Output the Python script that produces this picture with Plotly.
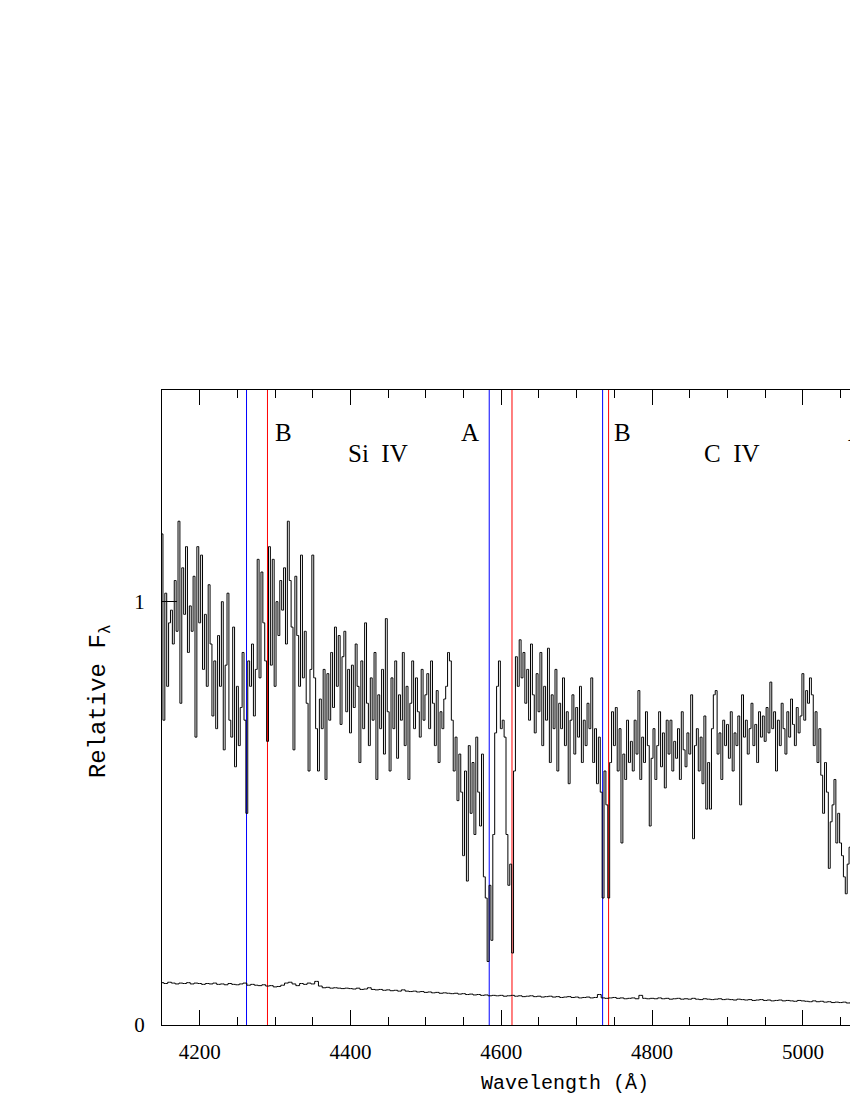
import numpy as np
import plotly.graph_objects as go

# ---------------- data ----------------
flux_start = 4150.0   # first wavelength of the spectrum (Å)
flux_step = 2.5       # pixel width (Å)
flux = [
    1.16, 0.72, 1.02, 0.80, 0.95, 0.98, 0.90, 1.05, 0.93, 1.19,
    0.76, 1.08, 0.97, 1.13, 0.88, 0.99, 0.93, 1.06, 0.68, 1.13,
    0.95, 1.11, 0.84, 0.97, 0.80, 1.04, 0.90, 0.73, 0.86, 0.70,
    0.92, 0.80, 1.00, 0.65, 0.85, 1.02, 0.72, 0.68, 0.94, 0.61,
    0.80, 0.66, 0.75, 0.88, 0.72, 0.50, 0.86, 0.80, 0.90, 0.73,
    0.84, 1.10, 0.82, 1.07, 0.95, 0.86, 0.67, 1.13, 0.85, 1.10,
    0.80, 1.00, 0.92, 1.05, 0.98, 1.08, 0.90, 1.19, 1.05, 0.94,
    0.65, 1.06, 0.92, 0.80, 1.11, 0.82, 0.93, 0.76, 0.60, 0.84,
    1.11, 0.82, 0.70, 0.60, 0.77, 0.70, 0.84, 0.58, 0.83, 0.72,
    0.88, 0.75, 0.94, 0.80, 0.92, 0.71, 0.87, 0.93, 0.74, 0.84,
    0.69, 0.85, 0.75, 0.90, 0.80, 0.62, 0.86, 0.70, 0.95, 0.76,
    0.66, 0.82, 0.72, 0.88, 0.58, 0.78, 0.70, 0.84, 0.64, 0.96,
    0.74, 0.60, 0.82, 0.70, 0.86, 0.63, 0.78, 0.72, 0.88, 0.66,
    0.80, 0.58, 0.76, 0.86, 0.70, 0.82, 0.74, 0.68, 0.84, 0.72,
    0.78, 0.83, 0.70, 0.86, 0.76, 0.66, 0.79, 0.62, 0.74, 0.70,
    0.77, 0.80, 0.88, 0.86, 0.72, 0.60, 0.68, 0.53, 0.64, 0.55,
    0.40, 0.60, 0.34, 0.66, 0.50, 0.62, 0.45, 0.68, 0.55, 0.47,
    0.64, 0.35, 0.30, 0.15, 0.33, 0.20, 0.45, 0.69, 0.80, 0.86,
    0.70, 0.72, 0.68, 0.45, 0.33, 0.38, 0.17, 0.60, 0.87, 0.80,
    0.91, 0.82, 0.88, 0.76, 0.84, 0.72, 0.90, 0.78, 0.69, 0.83,
    0.74, 0.88, 0.66, 0.80, 0.72, 0.89, 0.62, 0.78, 0.70, 0.84,
    0.60, 0.76, 0.70, 0.82, 0.66, 0.74, 0.57, 0.72, 0.78, 0.64,
    0.75, 0.68, 0.80, 0.62, 0.72, 0.66, 0.76, 0.70, 0.82, 0.62,
    0.70, 0.57, 0.68, 0.55, 0.30, 0.60, 0.52, 0.30, 0.62, 0.74,
    0.66, 0.75, 0.60, 0.70, 0.43, 0.64, 0.58, 0.72, 0.62, 0.67,
    0.60, 0.72, 0.64, 0.79, 0.58, 0.68, 0.62, 0.74, 0.66, 0.47,
    0.63, 0.70, 0.58, 0.66, 0.74, 0.61, 0.69, 0.56, 0.72, 0.64,
    0.72, 0.60, 0.67, 0.63, 0.70, 0.58, 0.74, 0.65, 0.61, 0.69,
    0.64, 0.78, 0.44, 0.66, 0.70, 0.60, 0.68, 0.57, 0.73, 0.51,
    0.62, 0.51, 0.70, 0.78, 0.79, 0.64, 0.69, 0.58, 0.72, 0.66,
    0.71, 0.63, 0.74, 0.60, 0.69, 0.66, 0.73, 0.52, 0.78, 0.68,
    0.72, 0.64, 0.70, 0.76, 0.66, 0.71, 0.62, 0.74, 0.68, 0.73,
    0.67, 0.75, 0.69, 0.81, 0.70, 0.74, 0.60, 0.72, 0.66, 0.76,
    0.70, 0.64, 0.74, 0.68, 0.77, 0.71, 0.66, 0.75, 0.69, 0.73,
    0.83, 0.72, 0.79, 0.76, 0.82, 0.78, 0.66, 0.74, 0.62, 0.70,
    0.59, 0.50, 0.62, 0.55, 0.37, 0.48, 0.52, 0.58, 0.43, 0.50,
    0.43, 0.40, 0.35, 0.31, 0.38, 0.42, 0.36, 0.40, 0.34, 0.39,
]

err_start = 4150.0
err_step = 5.0
error = [
    0.100, 0.098, 0.101, 0.099, 0.097, 0.099, 0.098, 0.100, 0.097, 0.099,
    0.098, 0.096, 0.098, 0.097, 0.099, 0.096, 0.097, 0.095, 0.098, 0.096,
    0.095, 0.097, 0.099, 0.094, 0.096, 0.094, 0.093, 0.095, 0.092, 0.093,
    0.090, 0.091, 0.094, 0.099, 0.101, 0.097, 0.093, 0.098, 0.096, 0.099,
    0.097, 0.103, 0.092, 0.088, 0.089, 0.087, 0.088, 0.087, 0.086, 0.087,
    0.086, 0.085, 0.087, 0.084, 0.085, 0.088, 0.084, 0.083, 0.084, 0.082,
    0.083, 0.081, 0.082, 0.080, 0.083, 0.080, 0.079, 0.080, 0.078, 0.079,
    0.077, 0.078, 0.076, 0.077, 0.075, 0.076, 0.075, 0.074, 0.075, 0.073,
    0.074, 0.072, 0.073, 0.071, 0.072, 0.070, 0.071, 0.069, 0.070, 0.069,
    0.070, 0.068, 0.069, 0.070, 0.068, 0.069, 0.067, 0.068, 0.069, 0.067,
    0.068, 0.066, 0.067, 0.068, 0.066, 0.067, 0.065, 0.066, 0.067, 0.065,
    0.066, 0.064, 0.065, 0.066, 0.064, 0.065, 0.072, 0.064, 0.063, 0.064,
    0.065, 0.063, 0.064, 0.062, 0.063, 0.064, 0.062, 0.070, 0.063, 0.062,
    0.063, 0.062, 0.064, 0.062, 0.063, 0.061, 0.062, 0.063, 0.061, 0.062,
    0.061, 0.063, 0.061, 0.060, 0.062, 0.061, 0.060, 0.061, 0.062, 0.060,
    0.061, 0.060, 0.059, 0.061, 0.060, 0.059, 0.060, 0.058, 0.059, 0.060,
    0.058, 0.059, 0.057, 0.058, 0.059, 0.057, 0.058, 0.057, 0.056, 0.058,
    0.057, 0.056, 0.055, 0.057, 0.055, 0.056, 0.054, 0.055, 0.053, 0.054,
    0.053, 0.054, 0.052, 0.053, 0.052,
]

# absorption line markers (Å)
blue_lines = [4262.1, 4584.0, 4734.4]
red_lines = [4289.9, 4614.2, 4742.3]

# text labels: (wavelength, relative flux, text)
label_x = [4311.0, 4437.0, 4559.0, 4761.0, 4906.0, 5072.0]
label_y = [1.40, 1.35, 1.40, 1.40, 1.35, 1.40]
label_text = ["B", "Si\u00a0\u00a0IV", "A", "B", "C\u00a0\u00a0IV", "A"]

x_range = [4150, 5062.5]
y_range = [0, 1.5]
x_major = [4200, 4400, 4600, 4800, 5000]
y_major = [0, 1]

# ---------------- figure ----------------
wave = flux_start + flux_step * np.arange(len(flux))
ewave = err_start + err_step * np.arange(len(error))

fig = go.Figure()
for xv in blue_lines:
    fig.add_trace(go.Scatter(x=[xv, xv], y=y_range, mode="lines",
                             line=dict(color="#0000ff", width=1),
                             hoverinfo="skip", showlegend=False))
for xv in red_lines:
    fig.add_trace(go.Scatter(x=[xv, xv], y=y_range, mode="lines",
                             line=dict(color="#ff0000", width=1),
                             hoverinfo="skip", showlegend=False))

fig.add_trace(go.Scatter(x=wave, y=flux, mode="lines",
                         line=dict(color="black", width=1, shape="hvh"),
                         showlegend=False))
fig.add_trace(go.Scatter(x=ewave, y=error, mode="lines",
                         line=dict(color="black", width=1, shape="hvh"),
                         showlegend=False))

serif = "Liberation Serif, DejaVu Serif, serif"
mono = "Liberation Mono, DejaVu Sans Mono, monospace"
x_span = x_range[1] - x_range[0]
for xv, yv, t in zip(label_x, label_y, label_text):
    # labels beyond the visible range are placed in paper units so they still draw
    fig.add_annotation(x=(xv - x_range[0]) / x_span, xref="paper", y=yv, yref="y",
                       text=t, showarrow=False,
                       font=dict(family=serif, size=25, color="black"),
                       xanchor="center", yanchor="middle")

fig.add_annotation(xref="paper", yref="paper", x=(565 - 162) / 688, y=-0.092,
                   text="Wavelength (\u00c5)", showarrow=False,
                   font=dict(family=mono, size=20, color="black"),
                   xanchor="center", yanchor="middle")
fig.add_annotation(xref="paper", yref="paper", x=-0.09, y=0.51,
                   text="Relative F<sub>\u03bb</sub>", showarrow=False, textangle=-90,
                   font=dict(family=mono, size=24, color="black"),
                   xanchor="center", yanchor="middle")

fig.update_layout(
    width=850, height=1100,
    margin=dict(l=162, r=0, t=390, b=75),
    paper_bgcolor="white", plot_bgcolor="white",
    showlegend=False,
    font=dict(family=serif, size=20, color="black"),
)
fig.update_xaxes(range=x_range, tickvals=x_major, ticks="inside", ticklen=15,
                 tickwidth=1, tickcolor="black", showline=True, linecolor="black",
                 linewidth=1, mirror="ticks", showgrid=False, zeroline=False,
                 ticklabelstandoff=8,
                 minor=dict(dtick=50, tick0=4150, ticks="inside", ticklen=8,
                            tickcolor="black", tickwidth=1, showgrid=False),
                 tickfont=dict(family=serif, size=21, color="black"))
fig.update_yaxes(range=y_range, tickvals=y_major, ticks="inside", ticklen=15,
                 tickwidth=1, tickcolor="black", showline=True, linecolor="black",
                 linewidth=1, mirror=False, showgrid=False, zeroline=False,
                 ticklabelstandoff=12,
                 tickfont=dict(family=serif, size=21, color="black"))

fig.write_html(
    "out.html",
    config={"displayModeBar": False},
    post_script="document.body.style.margin='0px';document.body.style.overflow='hidden';",
)
